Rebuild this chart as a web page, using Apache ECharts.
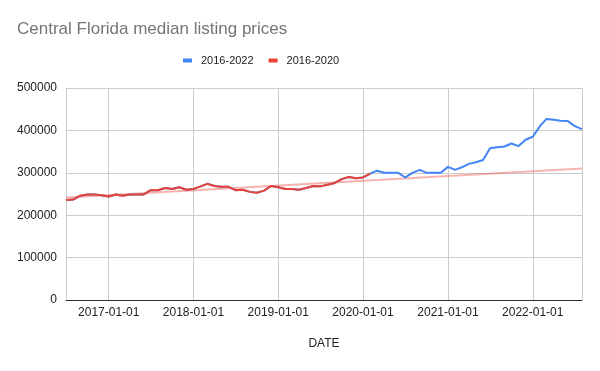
<!DOCTYPE html>
<html>
<head>
<meta charset="utf-8">
<script src="https://cdn.jsdelivr.net/npm/echarts@6/dist/echarts.min.js"></script>
<style>html,body{margin:0;padding:0;background:#fff}#c{width:600px;height:371px}</style>
</head>
<body>
<div id="c"></div>
<script>
// Monthly median listing prices, first month = 2016-07
const startYear = 2016, startMonth = 7;
const redValues = [
  236000, 237000, 246000, 249000, 249000, 247000,
  244000, 249000, 246000, 249000, 249000, 249000, 259000, 259000, 264000, 262000, 266000, 260000,
  262000, 268000, 274000, 269000, 267000, 267000, 259000, 260000, 255000, 253000, 258000, 269000,
  266000, 262000, 262000, 260000, 264000, 269000, 268000, 272000, 276000, 285000, 290000, 287000,
  289000, 298000
];
const blueLaterValues = [
  305000, 300000, 300000, 300000, 289000, 300000, 307000, 300000, 300000, 300000,
  314000, 307000, 313000, 321000, 325000, 330000, 358000, 360000, 362000, 369000, 363000, 378000,
  385000, 410000, 427000, 425000, 423000, 422000, 410000, 403000
];
const blueValues = redValues.concat(blueLaterValues);
const trendDates = ['2016-07-01', '2022-08-01'];
const trendValues = [242000, 310000];
const yTicks = [0, 100000, 200000, 300000, 400000, 500000];

function monthDate(i) {
  const m0 = startMonth - 1 + i;
  const y = startYear + Math.floor(m0 / 12);
  const m = (m0 % 12) + 1;
  return y + '-' + (m < 10 ? '0' + m : m) + '-01';
}
const blueData = blueValues.map((v, i) => [monthDate(i), v]);
const redData = redValues.map((v, i) => [monthDate(i), v]);
const trendData = trendDates.map((d, i) => [d, trendValues[i]]);

const chart = echarts.init(document.getElementById('c'), null, {renderer: 'canvas'});
const FONT = 'Liberation Sans, Arial, sans-serif';
chart.setOption({
  animation: false,
  textStyle: {fontFamily: FONT},
  title: {
    text: 'Central Florida median listing prices',
    left: 17, top: 21, padding: 0,
    textStyle: {fontFamily: FONT, fontSize: 17, fontWeight: 'normal', color: '#757575'}
  },
  legend: {
    data: ['2016-2022', '2016-2020'],
    left: 183, top: 55, padding: 0,
    icon: 'rect', itemWidth: 9, itemHeight: 4, itemGap: 15,
    textStyle: {fontFamily: FONT, fontSize: 11, color: '#222', padding: [0, 0, 0, 4]}
  },
  grid: {left: 66, right: 18, top: 88, bottom: 71, containLabel: false},
  xAxis: {
    type: 'time',
    min: '2016-07-01', max: '2022-08-01',
    minInterval: 365 * 24 * 3600 * 1000, maxInterval: 366 * 24 * 3600 * 1000,
    name: 'DATE', nameLocation: 'middle', nameGap: 38,
    nameTextStyle: {fontFamily: FONT, fontSize: 12, color: '#222'},
    axisLine: {show: true, lineStyle: {color: '#333', width: 1}},
    axisTick: {show: false},
    axisLabel: {
      margin: 7, fontFamily: FONT, fontSize: 12, color: '#222',
      formatter: '{yyyy}-{MM}-{dd}', hideOverlap: false
    },
    splitLine: {show: true, lineStyle: {color: '#cccccc', width: 1}}
  },
  yAxis: {
    type: 'value', min: yTicks[0], max: yTicks[yTicks.length - 1], interval: 100000,
    axisLine: {show: false}, axisTick: {show: false},
    axisLabel: {margin: 9, fontFamily: FONT, fontSize: 12, color: '#222', formatter: v => String(v)},
    splitLine: {lineStyle: {color: '#cccccc', width: 1}}
  },
  series: [
    {
      name: 'trend', type: 'line', data: trendData, symbol: 'none', silent: true,
      lineStyle: {color: '#EA4335', opacity: 0.4, width: 2}, z: 1
    },
    {
      name: '2016-2022', type: 'line', data: blueData, symbol: 'none',
      itemStyle: {color: '#4285F4'}, lineStyle: {color: '#4285F4', width: 2}, z: 2
    },
    {
      name: '2016-2020', type: 'line', data: redData, symbol: 'none',
      itemStyle: {color: '#EA4335'}, lineStyle: {color: '#EA4335', width: 2}, z: 3
    }
  ]
});
</script>
</body>
</html>
